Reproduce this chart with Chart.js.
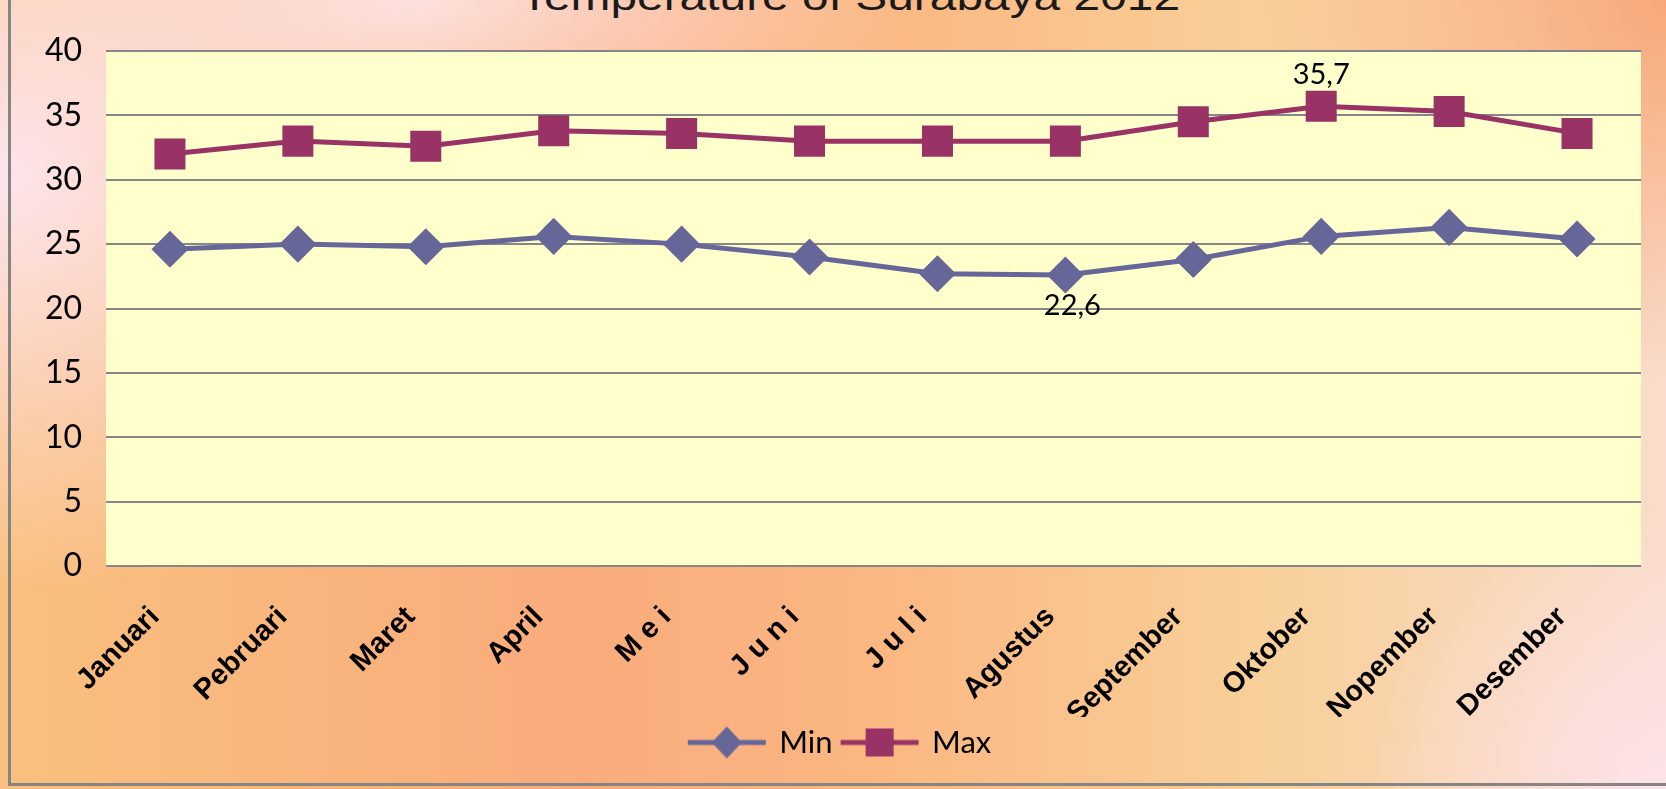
<!DOCTYPE html>
<html>
<head>
<meta charset="utf-8">
<script src="https://cdn.jsdelivr.net/npm/chart.js@4"></script>
<style>
html, body { margin: 0; padding: 0; }
body {
    width: 1666px; height: 789px; overflow: hidden; position: relative;
    background:
        radial-gradient(ellipse 520px 420px at 0% 22%, rgba(253,228,236,1) 0%, rgba(253,228,236,0) 100%),
        radial-gradient(ellipse 300px 260px at 100% 100%, rgba(253,226,232,1) 0%, rgba(253,226,232,0) 100%),
        radial-gradient(ellipse 420px 380px at 100% 0%, rgba(248,168,120,1) 0%, rgba(248,168,120,0) 100%),
        radial-gradient(ellipse 500px 200px at 25% 0%, rgba(253,224,220,1) 0%, rgba(253,224,220,0) 100%),
        linear-gradient(to right, #f9c07e 0%, #f9ab7c 35%, #fbb983 55%, #f8cf98 75%, #f9dccb 100%);
}
#frame {
    position: absolute; left: 8px; top: -10px; width: 1700px; height: 793px;
    border-left: 3px solid #858585; border-bottom: 3px solid #858585;
}
#title {
    position: absolute; left: 850px; top: -22px;
    font: 38px "Liberation Sans", Arial, sans-serif; line-height: 1;
    color: #1a1a1a; white-space: nowrap;
    transform: translateX(-50%) scaleX(1.26);
}
#chart { position: absolute; left: 0; top: 0; }
</style>
</head>
<body>
<div id="frame"></div>
<div id="title">Temperature of Surabaya 2012</div>
<canvas id="chart" width="1666" height="789"></canvas>
<script>
// data
const months = ["Januari", "Pebruari", "Maret", "April", "M e i", "J u n i", "J u l i", "Agustus", "September", "Oktober", "Nopember", "Desember"];
const minTemp = [24.6, 25.0, 24.8, 25.6, 25.0, 24.0, 22.7, 22.6, 23.8, 25.6, 26.3, 25.4];
const maxTemp = [32.0, 33.0, 32.6, 33.8, 33.6, 33.0, 33.0, 33.0, 34.5, 35.7, 35.3, 33.6];
const yTicks = [0, 5, 10, 15, 20, 25, 30, 35, 40];
// points that carry a value label
const labelled = [
    { series: 0, index: 7, below: true },
    { series: 1, index: 9, below: false }
];

const minColor = "#666699";
const maxColor = "#993366";

// legend symbol: short line with the marker on it
function legendMarker(color, shape) {
    const c = document.createElement("canvas");
    c.width = 80;
    c.height = 34;
    const g = c.getContext("2d");
    g.strokeStyle = color;
    g.lineWidth = 5;
    g.beginPath();
    g.moveTo(1, 17);
    g.lineTo(79, 17);
    g.stroke();
    g.fillStyle = color;
    g.beginPath();
    if (shape === "diamond") {
        g.moveTo(40, 1); g.lineTo(55, 17); g.lineTo(40, 33); g.lineTo(25, 17); g.closePath();
    } else {
        g.rect(26, 3, 28, 28);
    }
    g.fill();
    return c;
}
const markers = [legendMarker(minColor, "diamond"), legendMarker(maxColor, "square")];

// yellow plot area
const plotBg = {
    id: "plotBg",
    beforeDraw(chart) {
        const { ctx, chartArea: a } = chart;
        ctx.save();
        ctx.fillStyle = "#ffffcc";
        ctx.fillRect(a.left, a.top, a.right - a.left, a.bottom - a.top);
        ctx.restore();
    }
};

// "35,7" and "22,6"
const valueLabels = {
    id: "valueLabels",
    afterDatasetsDraw(chart) {
        const ctx = chart.ctx;
        ctx.save();
        ctx.font = "29px Lato";
        ctx.fillStyle = "#000";
        ctx.textAlign = "center";
        ctx.textBaseline = "middle";
        labelled.forEach(l => {
            const pt = chart.getDatasetMeta(l.series).data[l.index];
            const v = chart.data.datasets[l.series].data[l.index];
            ctx.fillText(v.toFixed(1).replace(".", ","), pt.x + (l.below ? 7 : 0), pt.y + (l.below ? 31 : -32));
        });
        ctx.restore();
    }
};

new Chart(document.getElementById("chart"), {
    type: "line",
    data: {
        labels: months,
        datasets: [
            {
                label: "Min",
                data: minTemp,
                borderColor: minColor,
                backgroundColor: minColor,
                borderWidth: 5,
                pointStyle: "rectRot",
                pointRadius: 15,
                pointHoverRadius: 15,
                tension: 0
            },
            {
                label: "Max",
                data: maxTemp,
                borderColor: maxColor,
                backgroundColor: maxColor,
                borderWidth: 5,
                pointStyle: "rect",
                pointRadius: 18.4,
                pointHoverRadius: 18.4,
                tension: 0
            }
        ]
    },
    options: {
        responsive: false,
        animation: false,
        devicePixelRatio: 1,
        layout: { padding: { top: 51, right: 25, bottom: 21, left: 40 } },
        scales: {
            x: {
                offset: true,
                grid: { display: false },
                border: { display: false },
                ticks: {
                    maxRotation: 45,
                    minRotation: 45,
                    padding: 26,
                    labelOffset: -15,
                    color: "#000",
                    font: { family: "Liberation Sans", size: 29, weight: "bold" }
                },
                afterFit: s => { s.height = 151; }
            },
            y: {
                min: 0,
                max: 40,
                afterBuildTicks: s => { s.ticks = yTicks.map(v => ({ value: v })); },
                grid: { color: "#868686", lineWidth: 2, drawTicks: false },
                border: { display: false },
                ticks: {
                    padding: 24,
                    color: "#000",
                    font: { family: "Lato", size: 32 }
                },
                afterFit: s => { s.width = 66; }
            }
        },
        plugins: {
            tooltip: { enabled: false },
            legend: {
                position: "bottom",
                labels: {
                    usePointStyle: true,
                    pointStyleWidth: 74,
                    padding: 10,
                    color: "#000",
                    font: { family: "Lato", size: 31 },
                    generateLabels: chart => chart.data.datasets.map((ds, i) => ({
                        text: ds.label,
                        pointStyle: markers[i],
                        fillStyle: ds.borderColor,
                        strokeStyle: ds.borderColor,
                        lineWidth: 0,
                        datasetIndex: i,
                        hidden: false
                    }))
                }
            }
        }
    },
    plugins: [plotBg, valueLabels]
});
</script>
</body>
</html>
